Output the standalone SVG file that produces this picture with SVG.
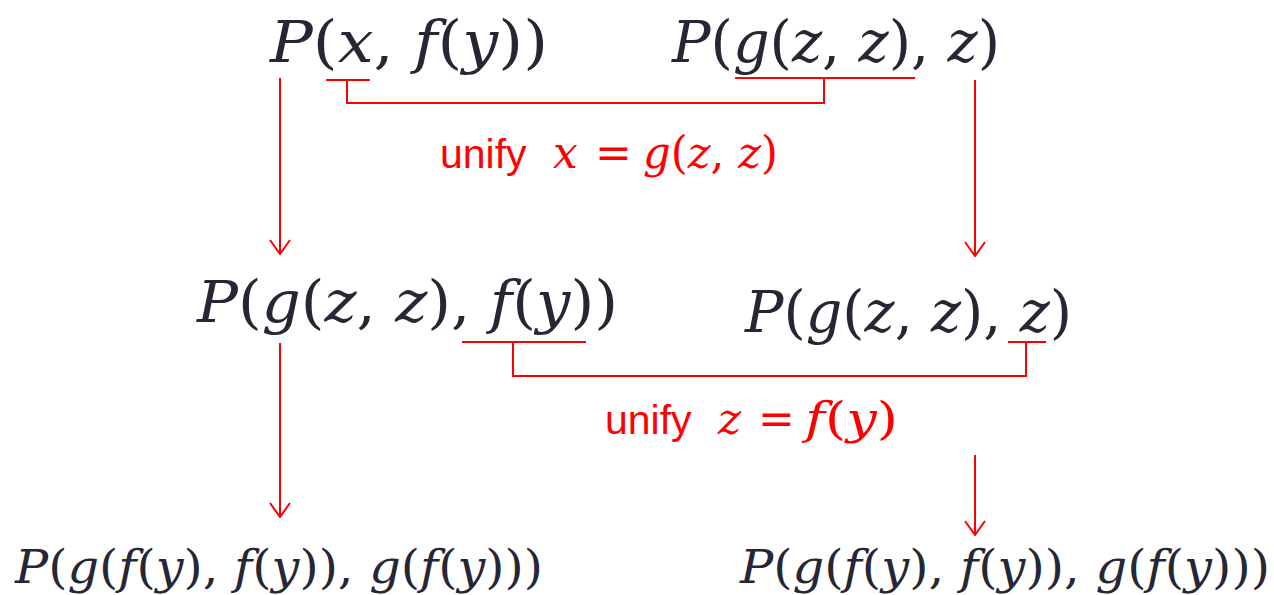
<svg xmlns="http://www.w3.org/2000/svg" width="1274" height="595" viewBox="0 0 1274 595">
<defs>
<style>
.m{font-family:"DejaVu Serif","Liberation Serif",serif;fill:#262634;font-style:normal}
.i{font-style:italic}
.r{fill:#ff0000}
.u{font-family:"Liberation Sans","DejaVu Sans",sans-serif;fill:#ff0000}
.ln{stroke:#ff0000;stroke-width:2;fill:none}
</style>
<marker id="ah" viewBox="0 0 16 24" refX="15" refY="12" markerWidth="16" markerHeight="24" markerUnits="userSpaceOnUse" orient="auto">
<path d="M1 2 L15 12 L1 22" fill="none" stroke="#ff0000" stroke-width="2"/>
</marker>
</defs>
<rect width="1274" height="595" fill="#ffffff"/>
<g id="t1"><text class="m" x="270" y="62" font-size="58" textLength="278" lengthAdjust="spacingAndGlyphs"><tspan class="i">P</tspan>(<tspan class="i">x</tspan>, <tspan class="i">f</tspan>(<tspan class="i">y</tspan>))</text></g>
<g id="t2"><text class="m" x="672" y="62" font-size="58" textLength="328" lengthAdjust="spacingAndGlyphs"><tspan class="i">P</tspan>(<tspan class="i">g</tspan>(<tspan class="i">z</tspan>, <tspan class="i">z</tspan>), <tspan class="i">z</tspan>)</text></g>
<g id="l1"><text x="440" y="168"><tspan class="u" font-size="41">unify</tspan><tspan class="m r i" x="553" font-size="44">x</tspan><tspan class="m r" x="595" font-size="44">=</tspan><tspan class="m r" x="643" font-size="44" textLength="135" lengthAdjust="spacingAndGlyphs"><tspan class="i">g</tspan>(<tspan class="i">z</tspan>, <tspan class="i">z</tspan>)</tspan></text></g>
<g id="t3"><text class="m" x="197" y="322" font-size="58" textLength="421" lengthAdjust="spacingAndGlyphs"><tspan class="i">P</tspan>(<tspan class="i">g</tspan>(<tspan class="i">z</tspan>, <tspan class="i">z</tspan>), <tspan class="i">f</tspan>(<tspan class="i">y</tspan>))</text></g>
<g id="t4"><text class="m" x="745" y="332" font-size="58" textLength="327" lengthAdjust="spacingAndGlyphs"><tspan class="i">P</tspan>(<tspan class="i">g</tspan>(<tspan class="i">z</tspan>, <tspan class="i">z</tspan>), <tspan class="i">z</tspan>)</text></g>
<g id="l2"><text x="605" y="434"><tspan class="u" font-size="41">unify</tspan><tspan class="m r i" x="718" font-size="44">z</tspan><tspan class="m r" x="758" font-size="44">=</tspan><tspan class="m r" x="805" font-size="44" textLength="93" lengthAdjust="spacingAndGlyphs"><tspan class="i">f</tspan>(<tspan class="i">y</tspan>)</tspan></text></g>
<g id="t5"><text class="m" x="15" y="583" font-size="46" textLength="528" lengthAdjust="spacingAndGlyphs"><tspan class="i">P</tspan>(<tspan class="i">g</tspan>(<tspan class="i">f</tspan>(<tspan class="i">y</tspan>), <tspan class="i">f</tspan>(<tspan class="i">y</tspan>)), <tspan class="i">g</tspan>(<tspan class="i">f</tspan>(<tspan class="i">y</tspan>)))</text></g>
<g id="t6"><text class="m" x="740" y="583" font-size="46" textLength="530" lengthAdjust="spacingAndGlyphs"><tspan class="i">P</tspan>(<tspan class="i">g</tspan>(<tspan class="i">f</tspan>(<tspan class="i">y</tspan>), <tspan class="i">f</tspan>(<tspan class="i">y</tspan>)), <tspan class="i">g</tspan>(<tspan class="i">f</tspan>(<tspan class="i">y</tspan>)))</text></g>
<g id="connectors" class="ln">
<line x1="326" y1="80" x2="370" y2="80"/>
<polyline points="347,80 347,103 824,103 824,78"/>
<line x1="735" y1="78" x2="915" y2="78"/>
<line x1="462" y1="342" x2="586" y2="342"/>
<polyline points="513,342 513,376 1026,376 1026,342"/>
<line x1="1008" y1="342" x2="1046" y2="342"/>
<line x1="280" y1="78" x2="280" y2="254" marker-end="url(#ah)"/>
<line x1="975" y1="80" x2="975" y2="256" marker-end="url(#ah)"/>
<line x1="280" y1="343" x2="280" y2="517" marker-end="url(#ah)"/>
<line x1="975" y1="455" x2="975" y2="535" marker-end="url(#ah)"/>
</g>
</svg>
